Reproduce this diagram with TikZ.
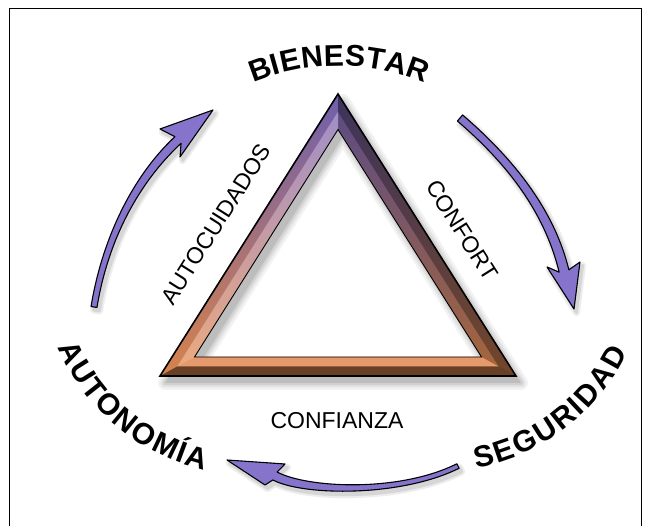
\documentclass[tikz,border=0pt]{standalone}
\usepackage{fontspec}
\setmainfont{Liberation Sans}
\usetikzlibrary{calc,decorations.text}
\definecolor{arrowpurple}{RGB}{134,116,204}
\definecolor{triTop}{RGB}{122,104,188}
\definecolor{triMid}{RGB}{188,148,172}
\definecolor{triBot}{RGB}{232,142,82}
\newcommand{\curvefont}{\bfseries\fontsize{30}{30}\selectfont}
\newcommand{\lspace}[2]{#2\kern#1}
% bent tapered arrow: tail, c1, c2, end, tail half width, end half width, left barb, tip, right barb
\newcommand{\bentarrow}[9]{%
  \coordinate (a0) at #1;
  \coordinate (a1) at #2;
  \coordinate (a2) at #3;
  \coordinate (a3) at #4;
  \coordinate (l0) at ($(a0)!#5!90:(a1)$);
  \coordinate (r0) at ($(a0)!#5!-90:(a1)$);
  \coordinate (l1) at ($(a1)!#5!-90:(a0)$);
  \coordinate (r1) at ($(a1)!#5!90:(a0)$);
  \coordinate (l2) at ($(a2)!#6!90:(a3)$);
  \coordinate (r2) at ($(a2)!#6!-90:(a3)$);
  \coordinate (l3) at ($(a3)!#6!-90:(a2)$);
  \coordinate (r3) at ($(a3)!#6!90:(a2)$);
  \coordinate (bl) at #7;
  \coordinate (tp) at #8;
  \coordinate (br) at #9;
  \begin{scope}[transform canvas={shift={(2.5pt,-3.5pt)}}]
    \filldraw[draw=black!7, fill=black!7, line width=7pt, line join=round]
      (l0) .. controls (l1) and (l2) .. (l3) -- (bl) -- (tp) -- (br) -- (r3) .. controls (r2) and (r1) .. (r0) -- cycle;
    \filldraw[draw=black!16, fill=black!16, line width=3pt, line join=round]
      (l0) .. controls (l1) and (l2) .. (l3) -- (bl) -- (tp) -- (br) -- (r3) .. controls (r2) and (r1) .. (r0) -- cycle;
  \end{scope}
  \filldraw[arrowbody]
    (l0) .. controls (l1) and (l2) .. (l3) -- (bl) -- (tp) -- (br) -- (r3) .. controls (r2) and (r1) .. (r0) -- cycle;
}
% center, radius, start angle, end angle, text, letter spacing
\newcommand{\curvetext}[6]{%
  \path[decorate,
    decoration={text along path, text format delimiters={|}{|},
      text={|\curvefont\lspace{#6}|#5}, text align=center, text color=black}]
    ([shift={(#3:#2)}]#1) arc[start angle=#3, end angle=#4, radius=#2];
}
\tikzset{
  lab/.style={font=\fontsize{23}{23}\selectfont, inner sep=0pt, text=black},
  arrowbody/.style={fill=arrowpurple, draw=black, line width=1.1pt, line join=round},
  borderline/.style={draw=black, line width=1.6pt},
}
\begin{document}
\begin{tikzpicture}[x=1pt,y=1pt]
\useasboundingbox (0,0) rectangle (651,526);
\fill[white] (0,0) rectangle (651,526);
% page border
\draw[borderline] (9.5,0) -- (9.5,517.5) -- (641.5,517.5) -- (641.5,0);

% triangle geometry
\coordinate (O1) at (338,432);
\coordinate (O2) at (160,150);
\coordinate (O3) at (516,150);
\coordinate (M1) at (338,414.2);
\coordinate (M2) at (177.2,159.5);
\coordinate (M3) at (498.8,159.5);
\coordinate (I1) at (338,396.5);
\coordinate (I2) at (194.5,169);
\coordinate (I3) at (481.5,169);

% frame shadow
\begin{scope}[transform canvas={shift={(5pt,-7pt)}}]
  \draw[black!5, line width=14pt, line join=round] (O1)--(O2)--(O3)--cycle (I1)--(I2)--(I3)--cycle;
  \draw[black!11, line width=9pt, line join=round] (O1)--(O2)--(O3)--cycle (I1)--(I2)--(I3)--cycle;
  \draw[black!18, line width=4.5pt, line join=round] (O1)--(O2)--(O3)--cycle (I1)--(I2)--(I3)--cycle;
  \fill[black!26, even odd rule] (O1)--(O2)--(O3)--cycle (I1)--(I2)--(I3)--cycle;
\end{scope}

% frame
\shade[top color=triTop, middle color=triMid, bottom color=triBot, even odd rule]
  (O1)--(O2)--(O3)--cycle (I1)--(I2)--(I3)--cycle;
\fill[black, opacity=0.5] (O1)--(O3)--(M3)--(M1)--cycle;
\fill[black, opacity=0.28] (M1)--(M3)--(I3)--(I1)--cycle;
\fill[black, opacity=0.55] (O2)--(O3)--(M3)--(M2)--cycle;
\fill[white, opacity=0.12] (M2)--(M3)--(I3)--(I2)--cycle;
\fill[white, opacity=0.25] (M2)--(M1)--(I1)--(I2)--cycle;
\fill[black, opacity=0.08] (O2)--(O1)--(M1)--(M2)--cycle;
\draw[black, line width=1.6pt, line join=miter] (O1)--(O2)--(O3)--cycle;
\draw[black, line width=0.9pt] (I1)--(I2)--(I3)--cycle;

% side labels
\node[lab, rotate=57.7] (autocuidados) at (216,302) {AUTOCUIDADOS};
\node[lab, rotate=-57.7] (confort) at (462,296) {CONFORT};
\node[lab] (confianza) at (337,105) {CONFIANZA};

% arrows
\bentarrow{(94,219)}{(105,286)}{(135,346)}{(178,386)}{3pt}{4.5pt}{(160,397)}{(213,416)}{(180,369)}
\bentarrow{(460,408)}{(503,371)}{(548,321)}{(564,255)}{4pt}{5pt}{(580,264)}{(574,217)}{(547,259)}
\bentarrow{(458,60)}{(400,31)}{(305,34)}{(275,50)}{2.5pt}{4.5pt}{(265,41)}{(227,66)}{(285,62)}

% curved labels
\curvetext{339,234}{226}{120}{60}{BIENESTAR}{0.4pt}
\curvetext{251,261}{210}{196}{264}{AUTONOMÍA}{1.6pt}
\curvetext{437,266}{212}{272}{342}{SEGURIDAD}{2.2pt}
\end{tikzpicture}
\end{document}
